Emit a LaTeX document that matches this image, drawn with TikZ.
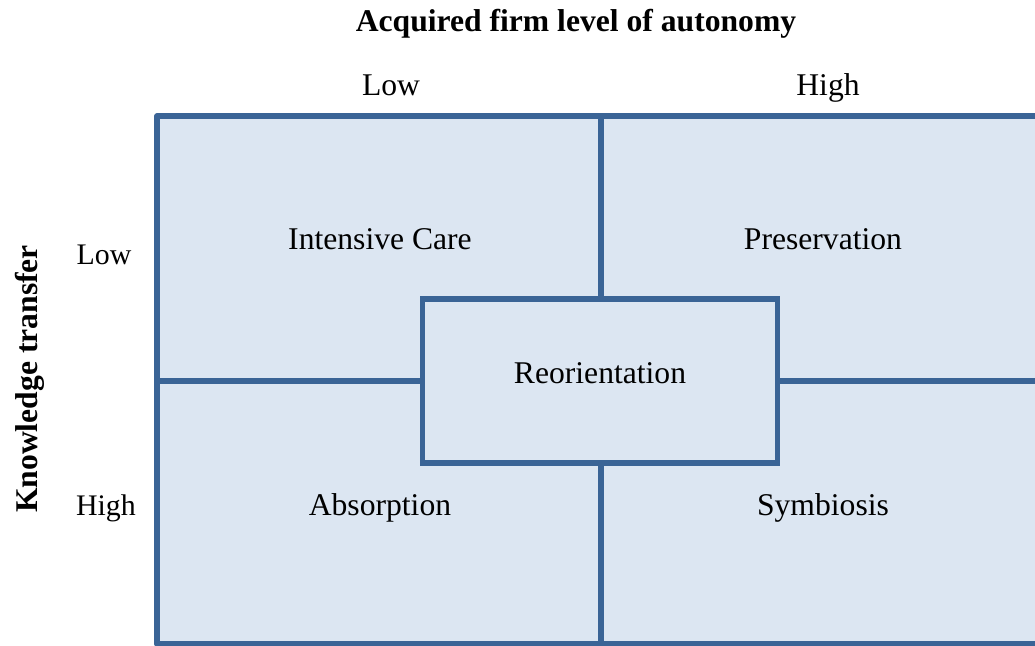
\documentclass[tikz,border=0pt]{standalone}
\usepackage{fontspec}
\setmainfont{Liberation Serif}
\usetikzlibrary{positioning}
\definecolor{gridline}{HTML}{3A6496}
\definecolor{cellfill}{HTML}{DCE6F2}
\begin{document}
\begin{tikzpicture}[x=0.02cm, y=-0.02cm, font=\fontsize{18}{21}\selectfont,
    gridln/.style={gridline, line width=2.9pt},
    cell/.style={inner sep=0pt, anchor=base},
    axis/.style={inner sep=0pt, anchor=base}]
  \useasboundingbox (0,0) rectangle (1035,646);
  \clip (0,0) rectangle (1035,646);
  % matrix frame
  \coordinate (nw) at (157,116);
  \coordinate (se) at (1050,644);
  \fill[cellfill] (nw) rectangle (se);
  \node[draw=gridline, line width=2.9pt, fill=cellfill, minimum width=355*0.02cm, minimum height=164*0.02cm, inner sep=0pt] (reo) at (600,381) {};
  \coordinate (top) at (601,116);
  \coordinate (bot) at (601,644);
  \coordinate (left) at (157,381);
  \coordinate (right) at (1050,381);
  \draw[gridln] (top) -- (top|-reo.north);
  \draw[gridln] (bot|-reo.south) -- (bot);
  \draw[gridln] (left) -- (reo.west);
  \draw[gridln] (reo.east) -- (right);
  \draw[gridln, line join=round] (1050,116) -- (nw) -- (157,644) -- (se);
  % cells
  \node[cell] (care) at (380,249) {Intensive Care};
  \node[cell] (pres) at (823,249) {Preservation};
  \node[cell] at (600,383) {Reorientation};
  \node[cell] (abs) at (380,515) {Absorption};
  \node[cell] (sym) at (823,515) {Symbiosis};
  % axes
  \node[axis, font=\fontsize{18}{21}\selectfont\bfseries] (autonomy) at (576,31) {Acquired firm level of autonomy};
  \node[axis] (lowx) at (391,95) {Low};
  \node[axis] (highx) at (828,95) {High};
  \node[axis, font=\fontsize{17}{20}\selectfont] (lowy) at (104,264) {Low};
  \node[axis, font=\fontsize{17}{20}\selectfont] (highy) at (106,515) {High};
  \node[axis, rotate=90, font=\fontsize{18}{21}\selectfont\bfseries] (transfer) at (37,379) {Knowledge transfer};
\end{tikzpicture}
\end{document}
